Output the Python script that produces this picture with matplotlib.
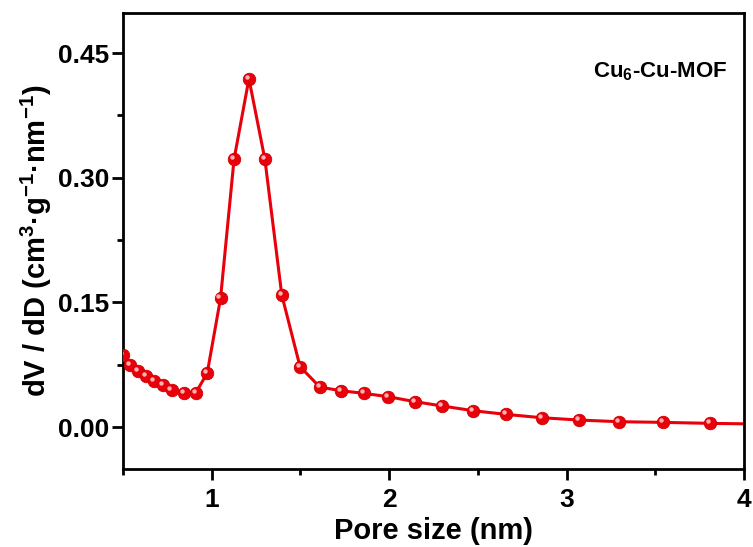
import numpy as np
import matplotlib
matplotlib.use("Agg")
import matplotlib.pyplot as plt
from matplotlib.transforms import offset_copy

plt.rcParams['font.family'] = ['Liberation Sans', 'DejaVu Sans']
plt.rcParams['font.weight'] = 'bold'
plt.rcParams['mathtext.fontset'] = 'custom'
plt.rcParams['mathtext.rm'] = 'Liberation Sans:bold'
plt.rcParams['mathtext.default'] = 'rm'

# pore size distribution
pore_size = [0.50, 0.54, 0.586, 0.63, 0.675, 0.724, 0.774, 0.844, 0.91, 0.975,
             1.05, 1.126, 1.21, 1.30, 1.395, 1.498, 1.61, 1.729, 1.858, 1.995,
             2.146, 2.30, 2.475, 2.66, 2.86, 3.07, 3.297, 3.545, 3.81, 4.09]
dv_dd = [0.087, 0.075, 0.067, 0.061, 0.055, 0.0505, 0.045, 0.0405, 0.041, 0.065,
         0.155, 0.322, 0.419, 0.322, 0.159, 0.0726, 0.048, 0.0437, 0.0405, 0.0365,
         0.0305, 0.0253, 0.0196, 0.0152, 0.0112, 0.0084, 0.0064, 0.0056, 0.0044, 0.0036]
x_ticks = [1, 2, 3, 4]
y_ticks = [0.00, 0.15, 0.30, 0.45]

fig = plt.figure(figsize=(7.53, 5.47), dpi=100)
ax = fig.add_axes([0.1633, 0.1426, 0.988 - 0.1633, 0.976 - 0.1426])

red = '#e8000b'
ax.plot(pore_size, dv_dd, '-', color=red, lw=2.2, zorder=2)
ax.plot(pore_size, dv_dd, 'o', color=red, ms=9, mec='#d00000', mew=0.6, zorder=3)
# little shine on each ball
shine = offset_copy(ax.transData, fig=fig, x=-1.5, y=1.5, units='points')
ax.plot(pore_size, dv_dd, 'o', color='#ffb0b0', ms=3.2, mew=0, transform=shine, zorder=4)

ax.set_xlim(0.5, 4)
ax.set_ylim(-0.0505, 0.498)
ax.set_xticks(x_ticks)
ax.set_yticks(y_ticks)
ax.set_xticks([0.5, 1.5, 2.5, 3.5], minor=True)
ax.set_yticks([0.075, 0.225, 0.375], minor=True)
ax.set_xticklabels([str(v) for v in x_ticks])
ax.set_yticklabels(['%.2f' % v for v in y_ticks])

for s in ax.spines.values():
    s.set_linewidth(2.0)
ax.tick_params(which='major', direction='out', length=8, width=2.0, labelsize=19)
ax.tick_params(axis='y', which='major', pad=2)
ax.tick_params(axis='x', which='major', pad=6)
ax.tick_params(which='minor', direction='out', length=4.5, width=2.0)

ax.set_xlabel('Pore size (nm)', fontsize=21, fontweight='bold', labelpad=3)
ax.set_ylabel('dV / dD (cm$^{3}$·g$^{-1}$·nm$^{-1}$)', fontsize=21, fontweight='bold', labelpad=3)

ax.text(3.15, 0.427, 'Cu$_{6}$-Cu-MOF', fontsize=16, fontweight='bold', ha='left', va='center')

fig.savefig('out.png', dpi=100)
